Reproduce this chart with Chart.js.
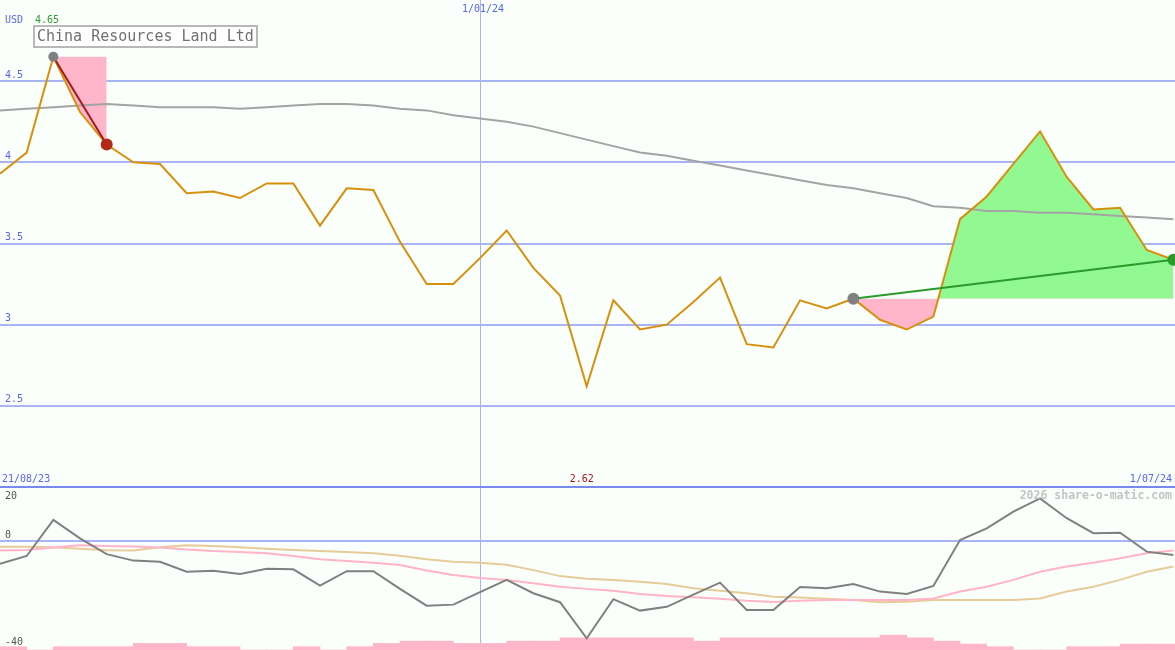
<!DOCTYPE html>
<html lang="en">
<head>
<meta charset="UTF-8">
<title>China Resources Land Ltd | share-o-matic</title>
<script src="https://cdn.jsdelivr.net/npm/chart.js"></script>
<style>
  html, body { margin: 0; padding: 0; background: #fbfffb; }
  #wrap { width: 1175px; height: 650px; }
</style>
</head>
<body>
<div id="wrap"><canvas id="chart" width="1175" height="650"></canvas></div>

<script>
// weekly data, 28/08/23 .. 1/07/24
const weeks = [
  '28/08/23','4/09/23','11/09/23','18/09/23','25/09/23','2/10/23','9/10/23','16/10/23','23/10/23','30/10/23',
  '6/11/23','13/11/23','20/11/23','27/11/23','4/12/23','11/12/23','18/12/23','25/12/23','1/01/24','8/01/24',
  '15/01/24','22/01/24','29/01/24','5/02/24','12/02/24','19/02/24','26/02/24','4/03/24','11/03/24','18/03/24',
  '25/03/24','1/04/24','8/04/24','15/04/24','22/04/24','29/04/24','6/05/24','13/05/24','20/05/24','27/05/24',
  '3/06/24','10/06/24','17/06/24','24/06/24','1/07/24'
];

// close price, USD
const price = [
  3.93, 4.06, 4.65, 4.31, 4.11, 4.00, 3.99, 3.81, 3.82, 3.78,
  3.87, 3.87, 3.61, 3.84, 3.83, 3.51, 3.25, 3.25, 3.41, 3.58,
  3.35, 3.18, 2.62, 3.15, 2.97, 3.00, 3.14, 3.29, 2.88, 2.86,
  3.15, 3.10, 3.16, 3.03, 2.97, 3.05, 3.65, 3.79, 3.99, 4.19,
  3.91, 3.71, 3.72, 3.46, 3.40
];

// moving average (grey)
const avg = [
  4.32, 4.33, 4.34, 4.35, 4.36, 4.35, 4.34, 4.34, 4.34, 4.33,
  4.34, 4.35, 4.36, 4.36, 4.35, 4.33, 4.32, 4.29, 4.27, 4.25,
  4.22, 4.18, 4.14, 4.10, 4.06, 4.04, 4.01, 3.98, 3.95, 3.92,
  3.89, 3.86, 3.84, 3.81, 3.78, 3.73, 3.72, 3.70, 3.70, 3.69,
  3.69, 3.68, 3.67, 3.66, 3.65
];

// lower pane oscillator and its two signal lines
const osc = [
  -8.3, -5.4, 7.9, 1.1, -4.7, -7.1, -7.5, -11.2, -10.8, -12.0,
  -10.1, -10.3, -16.3, -11.0, -11.0, -17.5, -23.7, -23.3, -18.7, -14.2,
  -19.1, -22.4, -35.7, -21.3, -25.5, -24.1, -19.6, -15.2, -25.3, -25.3,
  -16.8, -17.3, -15.7, -18.5, -19.4, -16.4, 0.5, 4.8, 10.9, 15.8,
  8.5, 3.0, 3.2, -3.8, -5.0
];
const sigFast = [
  -3.4, -3.2, -2.3, -1.4, -1.7, -1.9, -2.3, -3.0, -3.6, -3.9,
  -4.4, -5.4, -6.6, -7.2, -7.9, -8.7, -10.7, -12.4, -13.5, -14.2,
  -15.4, -16.7, -17.5, -18.2, -19.4, -20.1, -20.6, -21.1, -21.9, -22.3,
  -21.9, -21.6, -21.6, -21.6, -21.6, -21.0, -18.5, -16.7, -14.2, -11.2,
  -9.3, -7.9, -6.2, -4.4, -3.4
];
const sigSlow = [
  -2.0, -2.0, -2.2, -2.7, -3.3, -3.4, -2.2, -1.4, -1.7, -2.2,
  -2.7, -3.2, -3.6, -3.9, -4.4, -5.3, -6.6, -7.5, -7.9, -8.6,
  -10.6, -12.8, -13.8, -14.2, -14.9, -15.7, -17.3, -18.2, -19.1, -20.4,
  -20.7, -21.1, -21.6, -22.4, -22.2, -21.6, -21.6, -21.6, -21.6, -21.0,
  -18.5, -16.7, -14.2, -11.2, -9.3
];

// weekly volume (M shares)
const volume = [
  10, 0, 10, 10, 10, 20, 20, 10, 10, 0,
  0, 10, 0, 10, 20, 27, 27, 20, 20, 27,
  27, 37, 37, 37, 37, 37, 27, 37, 37, 37,
  37, 37, 37, 45, 37, 27, 18, 10, 0, 0,
  10, 10, 18, 18, 18
];

const priceTicks = [2.5, 3, 3.5, 4, 4.5];

const title = 'China Resources Land Ltd';
const startLabel = '21/08/23';

// swing points: high -> next low, and low -> last close
const hiIdx = 2, hiEndIdx = 4;
const loIdx = 32, lastIdx = price.length - 1;
const minIdx = price.indexOf(Math.min(...price));

const PINK = '#ffb6cb';
const GREEN = '#92f992';
const BLUE_TXT = '#5665f0';
const GRID = '#a8b4f4';
const MONO = '"DejaVu Sans Mono", "Liberation Mono", monospace';

const pts = (arr, from = 0, to = arr.length - 1) =>
  arr.slice(from, to + 1).map((v, k) => ({ x: from + k, y: v }));

const overlay = {
  id: 'overlay',
  beforeDatasetsDraw(chart) {
    const { ctx, chartArea: a, scales: { x } } = chart;
    const vx = Math.round(x.getPixelForValue(weeks.indexOf('1/01/24'))) + 0.5;
    ctx.save();
    ctx.strokeStyle = GRID;
    ctx.lineWidth = 1;
    ctx.beginPath();
    ctx.moveTo(vx, a.top);
    ctx.lineTo(vx, a.bottom);
    ctx.stroke();
    ctx.restore();
  },
  afterDatasetsDraw(chart) {
    const { ctx, chartArea: a, scales: { x, yPrice, yInd } } = chart;
    ctx.save();

    // pane separator
    const sy = yPrice.getPixelForValue(2);
    ctx.strokeStyle = '#7888ee';
    ctx.lineWidth = 2;
    ctx.beginPath();
    ctx.moveTo(a.left, sy);
    ctx.lineTo(a.right, sy);
    ctx.stroke();

    ctx.textBaseline = 'middle';
    ctx.font = '10px ' + MONO;

    // price labels
    ctx.fillStyle = BLUE_TXT;
    ctx.textAlign = 'left';
    priceTicks.forEach(v => ctx.fillText(String(v), 5, yPrice.getPixelForValue(v) - 6));
    ctx.fillText('USD', 5, 20);

    ctx.fillStyle = '#2ea02e';
    ctx.fillText(price[hiIdx].toFixed(2), 35, 20);

    // dates
    ctx.fillStyle = BLUE_TXT;
    const vx = x.getPixelForValue(weeks.indexOf('1/01/24'));
    ctx.textAlign = 'center';
    ctx.fillText('1/01/24', vx + 3, 9);
    ctx.textAlign = 'left';
    ctx.fillText(startLabel, 2, sy - 8);
    ctx.textAlign = 'right';
    ctx.fillText(weeks[lastIdx], a.right - 3, sy - 8);

    ctx.fillStyle = '#a51a1a';
    ctx.textAlign = 'center';
    ctx.fillText(price[minIdx].toFixed(2), x.getPixelForValue(minIdx) - 5, sy - 8);

    // lower pane labels
    ctx.fillStyle = '#555';
    ctx.textAlign = 'left';
    ctx.fillText('20', 5, yInd.top + 9);
    ctx.fillText('0', 5, yInd.getPixelForValue(0) - 6);
    ctx.fillText('-40', 5, yInd.bottom - 8);

    ctx.fillStyle = '#c4c4c4';
    ctx.textAlign = 'right';
    ctx.font = 'bold 11.5px ' + MONO;
    ctx.fillText('2026 share-o-matic.com', a.right - 3, yInd.top + 9);

    // title box
    ctx.fillStyle = '#ffffff';
    ctx.fillRect(34, 26, 223, 21);
    ctx.strokeStyle = '#b8b8b8';
    ctx.lineWidth = 2;
    ctx.strokeRect(34, 26, 223, 21);
    ctx.fillStyle = '#707070';
    ctx.textAlign = 'left';
    ctx.font = '15px ' + MONO;
    ctx.fillText(title, 37, 37);

    ctx.restore();
  }
};

new Chart(document.getElementById('chart'), {
  type: 'line',
  data: {
    datasets: [
      {
        // swing markers
        yAxisID: 'yPrice',
        data: [
          { x: hiIdx, y: price[hiIdx] }, { x: hiEndIdx, y: price[hiEndIdx] },
          { x: loIdx, y: price[loIdx] }, { x: lastIdx, y: price[lastIdx] }
        ],
        showLine: false,
        pointRadius: [5, 6, 6, 6],
        pointBackgroundColor: ['#808080', '#b02a16', '#808080', '#2a9a2a'],
        pointBorderWidth: 0
      },
      {
        yAxisID: 'yPrice',
        data: [{ x: hiIdx, y: price[hiIdx] }, { x: hiEndIdx, y: price[hiEndIdx] }],
        borderColor: '#a01c1c', borderWidth: 2, pointRadius: 0
      },
      {
        yAxisID: 'yPrice',
        data: [{ x: loIdx, y: price[loIdx] }, { x: lastIdx, y: price[lastIdx] }],
        borderColor: '#2a9a2a', borderWidth: 2, pointRadius: 0
      },
      {
        yAxisID: 'yPrice',
        data: pts(price),
        borderColor: '#d8900c', borderWidth: 2, pointRadius: 0
      },
      {
        yAxisID: 'yPrice',
        data: pts(avg),
        borderColor: '#a4a4a4', borderWidth: 2, pointRadius: 0
      },
      {
        yAxisID: 'yPrice',
        data: pts(price, hiIdx, hiEndIdx),
        borderWidth: 0, pointRadius: 0,
        fill: { target: { value: price[hiIdx] }, above: PINK, below: PINK }
      },
      {
        yAxisID: 'yPrice',
        data: pts(price, loIdx, lastIdx),
        borderWidth: 0, pointRadius: 0,
        fill: { target: { value: price[loIdx] }, above: GREEN, below: PINK }
      },
      {
        yAxisID: 'yInd',
        data: pts(osc),
        borderColor: '#808080', borderWidth: 2, pointRadius: 0
      },
      {
        yAxisID: 'yInd',
        data: pts(sigFast),
        borderColor: '#ffb4c8', borderWidth: 2, pointRadius: 0
      },
      {
        yAxisID: 'yInd',
        data: pts(sigSlow),
        borderColor: '#e6cc98', borderWidth: 2, pointRadius: 0
      },
      {
        type: 'bar',
        yAxisID: 'yVol',
        data: volume.map((v, i) => ({ x: i + 0.5, y: v })),
        backgroundColor: PINK,
        barPercentage: 1,
        categoryPercentage: 1
      }
    ]
  },
  options: {
    responsive: false,
    animation: false,
    events: [],
    layout: { padding: 0, autoPadding: false },
    elements: { line: { tension: 0 } },
    plugins: { legend: { display: false }, tooltip: { enabled: false } },
    scales: {
      x: { type: 'linear', min: 0, max: 44.06, display: false, offset: false, grid: { offset: false } },
      yInd: {
        type: 'linear', position: 'left', stack: 'panes', stackWeight: 163,
        min: -40, max: 20,
        afterBuildTicks: s => { s.ticks = [{ value: 0 }]; },
        grid: { color: GRID, lineWidth: 2, drawTicks: false },
        border: { display: false },
        ticks: { display: false }
      },
      yPrice: {
        type: 'linear', position: 'left', stack: 'panes', stackWeight: 487,
        min: 2, max: 5,
        afterBuildTicks: s => { s.ticks = priceTicks.map(v => ({ value: v })); },
        grid: { color: GRID, lineWidth: 2, drawTicks: false },
        border: { display: false },
        ticks: { display: false }
      },
      yVol: { type: 'linear', display: false, min: 0, max: 1970 }
    }
  },
  plugins: [overlay]
});
</script>
</body>
</html>
